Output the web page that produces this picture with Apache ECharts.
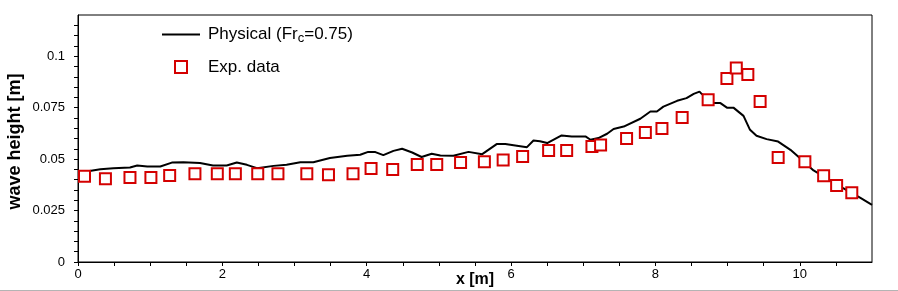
<!DOCTYPE html>
<html>
<head>
<meta charset="utf-8">
<script src="https://cdn.jsdelivr.net/npm/echarts@6/dist/echarts.min.js"></script>
<style>
  html, body { margin: 0; padding: 0; background: #fff; }
  #chart { width: 898px; height: 291px; }
</style>
</head>
<body>
<div id="chart"></div>
<script>
// computed profile (Fr_c = 0.75): x [m], wave height [m]
const simX = [0.03, 0.31, 0.49, 0.72, 0.82, 0.96, 1.14, 1.30, 1.46, 1.69, 1.87, 2.06, 2.20, 2.34, 2.48, 2.71, 2.89, 3.08, 3.26, 3.49, 3.73, 3.91, 4.02, 4.12, 4.23, 4.37, 4.49, 4.63, 4.76, 4.90, 5.02, 5.20, 5.41, 5.60, 5.80, 5.92, 6.08, 6.22, 6.31, 6.40, 6.50, 6.70, 6.84, 7.03, 7.10, 7.21, 7.33, 7.42, 7.56, 7.79, 7.93, 8.02, 8.11, 8.30, 8.43, 8.53, 8.61, 8.64, 8.71, 8.80, 8.90, 8.99, 9.08, 9.22, 9.31, 9.40, 9.54, 9.70, 9.87, 10.00, 10.19, 10.37, 10.60, 10.84, 11.00];
const simH = [0.0435, 0.0451, 0.0456, 0.0459, 0.0469, 0.0464, 0.0464, 0.0483, 0.0485, 0.0481, 0.0469, 0.0469, 0.0483, 0.0472, 0.0456, 0.0467, 0.0472, 0.0485, 0.0485, 0.0505, 0.0516, 0.0521, 0.0535, 0.0534, 0.0519, 0.0540, 0.0550, 0.0532, 0.0510, 0.0526, 0.0517, 0.0516, 0.0535, 0.0524, 0.0573, 0.0573, 0.0565, 0.0558, 0.0590, 0.0587, 0.0578, 0.0615, 0.0610, 0.0610, 0.0594, 0.0602, 0.0623, 0.0646, 0.0658, 0.0696, 0.0731, 0.0731, 0.0755, 0.0783, 0.0796, 0.0817, 0.0828, 0.0817, 0.0796, 0.0772, 0.0772, 0.0750, 0.0750, 0.0710, 0.0642, 0.0613, 0.0597, 0.0585, 0.0545, 0.0505, 0.0445, 0.0408, 0.0359, 0.0311, 0.0278];

// measured
const expX = [0.09, 0.38, 0.72, 1.01, 1.27, 1.62, 1.93, 2.18, 2.49, 2.77, 3.17, 3.47, 3.81, 4.06, 4.36, 4.70, 4.97, 5.30, 5.63, 5.89, 6.16, 6.52, 6.77, 7.12, 7.24, 7.60, 7.86, 8.09, 8.37, 8.73, 8.99, 9.12, 9.28, 9.45, 9.70, 10.07, 10.33, 10.51, 10.72];
const expH = [0.0417, 0.0404, 0.0411, 0.0411, 0.0420, 0.0429, 0.0429, 0.0429, 0.0429, 0.0429, 0.0429, 0.0424, 0.0429, 0.0454, 0.0450, 0.0474, 0.0474, 0.0483, 0.0487, 0.0495, 0.0513, 0.0542, 0.0542, 0.0561, 0.0569, 0.0600, 0.0629, 0.0649, 0.0702, 0.0788, 0.0891, 0.0943, 0.0911, 0.0780, 0.0508, 0.0487, 0.0419, 0.0372, 0.0336];

const xLabels = [0, 2, 4, 6, 8, 10];
const yLabels = [0, 0.025, 0.05, 0.075, 0.1];

const font = '"Liberation Sans", Arial, sans-serif';
const red = '#d40000';

const chart = echarts.init(document.getElementById('chart'), null, { renderer: 'canvas' });

function pick(list, v) {
  const r = parseFloat(v.toFixed(4));
  return list.some(l => Math.abs(l - r) < 1e-6) ? String(r) : '';
}

chart.setOption({
  animation: false,
  backgroundColor: '#fff',
  textStyle: { fontFamily: font },
  grid: {
    left: 78, right: 26, top: 15, bottom: 29,
    outerBoundsMode: 'none',
    containLabel: false,
    show: true, borderColor: '#000', borderWidth: 1, backgroundColor: 'transparent'
  },
  legend: {
    orient: 'vertical',
    left: 157, top: 21,
    itemWidth: 38, itemHeight: 12,
    itemGap: 14,
    textStyle: {
      fontFamily: font, fontSize: 17, color: '#000', padding: [0, 0, 0, 3],
      rich: {
        n: { fontFamily: font, fontSize: 17, color: '#000' },
        sub: { fontFamily: font, fontSize: 13, color: '#000', padding: [7, 0, 0, 0] }
      }
    },
    formatter: name => name === 'Physical' ? '{n|Physical (Fr}{sub|c}{n|=0.75)}' : name,
    data: [
      { name: 'Physical', icon: 'path://M0,0 H38 V2 H0 Z' },
      { name: 'Exp. data', icon: 'path://M0,0 H12 V12 H0 Z' }
    ]
  },
  xAxis: {
    type: 'value',
    min: 0, max: 11, interval: 0.5,
    name: 'x [m]',
    nameLocation: 'middle',
    nameGap: 10,
    nameMoveOverlap: false,
    nameTextStyle: { fontFamily: font, fontSize: 16, fontWeight: 'bold', color: '#000' },
    axisLine: { lineStyle: { color: '#000', width: 1 } },
    axisTick: { length: 4, lineStyle: { color: '#000' } },
    axisLabel: {
      fontFamily: font, fontSize: 13, color: '#000', margin: 6,
      showMaxLabel: false,
      formatter: v => pick(xLabels, v)
    },
    splitLine: { show: false }
  },
  yAxis: {
    type: 'value',
    min: 0, max: 0.12, interval: 0.005,
    name: 'wave height [m]',
    nameLocation: 'middle',
    nameGap: 54,
    nameMoveOverlap: false,
    nameTextStyle: { fontFamily: font, fontSize: 18, fontWeight: 'bold', color: '#000', padding: [0, 6, 0, 0] },
    axisLine: { show: true, lineStyle: { color: '#000', width: 1 } },
    axisTick: { show: true, length: 4, lineStyle: { color: '#000' } },
    axisLabel: {
      fontFamily: font, fontSize: 13, color: '#000', margin: 13,
      showMaxLabel: false,
      formatter: v => pick(yLabels, v)
    },
    splitLine: { show: false }
  },
  series: [
    {
      name: 'Physical',
      type: 'line',
      data: simX.map((x, i) => [x, simH[i]]),
      showSymbol: false,
      symbol: 'none',
      lineStyle: { color: '#000', width: 2 },
      itemStyle: { color: '#000' },
      z: 2
    },
    {
      name: 'Exp. data',
      type: 'scatter',
      data: expX.map((x, i) => [x, expH[i]]),
      symbol: 'rect',
      symbolSize: 11,
      itemStyle: { color: '#fff', borderColor: red, borderWidth: 2, opacity: 1 },
      z: 3
    }
  ],
  graphic: [
    {
      type: 'line',
      shape: { x1: 0, y1: 290.5, x2: 898, y2: 290.5 },
      style: { stroke: '#b4b4b4', lineWidth: 1 },
      silent: true
    }
  ]
});
</script>
</body>
</html>
